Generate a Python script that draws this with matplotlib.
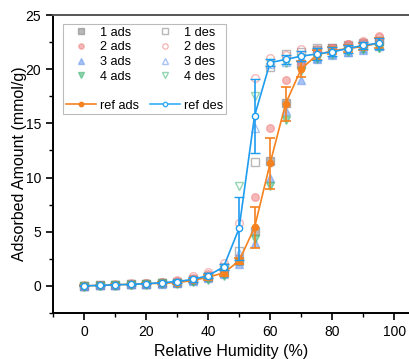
import numpy as np
import matplotlib
matplotlib.use("Agg")
import matplotlib.pyplot as plt
from matplotlib.lines import Line2D
from matplotlib.ticker import MultipleLocator

plt.rcParams['font.family'] = ['Liberation Sans', 'DejaVu Sans']

rh = [0, 5, 10, 15, 20, 25, 30, 35, 40, 45, 50, 55, 60, 65, 70, 75, 80, 85, 90, 95]

ads1 = [0, 0.05, 0.1, 0.15, 0.2, 0.25, 0.3, 0.5, 0.8, 1.2, 2.3, 5.1, 11.5, 16.9, 20.5, 21.8, 22.0, 22.1, 22.3, 22.6]
ads2 = [0.02, 0.08, 0.12, 0.2, 0.25, 0.35, 0.45, 0.75, 1.1, 1.5, 2.6, 8.2, 14.6, 19.0, 20.6, 21.5, 22.0, 22.3, 22.5, 23.0]
ads3 = [0, 0.05, 0.1, 0.15, 0.2, 0.22, 0.28, 0.45, 0.7, 1.1, 2.0, 4.0, 10.0, 16.1, 19.0, 20.9, 21.4, 21.6, 21.8, 22.1]
ads4 = [-0.1, -0.05, 0, 0.05, 0.1, 0.15, 0.2, 0.35, 0.5, 0.9, 2.3, 4.3, 9.2, 15.3, 19.8, 21.0, 21.5, 21.7, 21.9, 22.0]

des1 = [0, 0.05, 0.1, 0.15, 0.2, 0.3, 0.4, 0.6, 0.9, 1.7, 3.2, 11.4, 20.2, 21.4, 21.6, 22.0, 22.0, 22.2, 22.4, 22.6]
des2 = [0.05, 0.1, 0.15, 0.25, 0.3, 0.4, 0.55, 0.9, 1.3, 2.1, 5.8, 19.2, 21.0, 21.3, 21.9, 21.9, 22.0, 22.3, 22.6, 23.1]
des3 = [0, 0.05, 0.1, 0.15, 0.2, 0.3, 0.35, 0.55, 0.85, 1.6, 3.0, 14.6, 20.5, 20.7, 21.0, 21.0, 21.3, 21.6, 22.0, 22.1]
des4 = [-0.05, 0, 0.05, 0.1, 0.15, 0.25, 0.3, 0.45, 0.8, 1.5, 9.2, 17.5, 20.6, 20.6, 21.0, 20.9, 21.3, 21.6, 21.9, 22.0]

ref_ads = [0, 0.05, 0.1, 0.15, 0.2, 0.25, 0.3, 0.5, 0.8, 1.2, 2.3, 5.4, 11.3, 16.8, 20.0, 21.3, 21.7, 21.9, 22.1, 22.4]
ref_des = [0, 0.05, 0.1, 0.15, 0.2, 0.3, 0.4, 0.6, 0.95, 1.75, 5.3, 15.7, 20.6, 20.9, 21.2, 21.4, 21.6, 21.9, 22.2, 22.4]

run_labels = ['1', '2', '3', '4']
run_colors = ['#7f7f7f', '#f08080', '#6495ed', '#3cb371']
run_markers = ['s', 'o', '^', 'v']
ads_runs = [ads1, ads2, ads3, ads4]
des_runs = [des1, des2, des3, des4]

c_ads = '#f5821f'
c_des = '#1e9cf0'

fig = plt.figure(figsize=(4.09, 3.59), dpi=100)
ax = fig.add_axes([53/409, 1 - 313/359, 1 - 53/409, (313 - 15)/359])

ads_handles, des_handles = [], []
for lab, col, mk, a, d in zip(run_labels, run_colors, run_markers, ads_runs, des_runs):
    h1, = ax.plot(rh, a, linestyle='none', marker=mk, ms=5.5, mfc=col, mec=col,
                  alpha=0.55, mew=1.0, zorder=2, label=f'{lab} ads')
    h2, = ax.plot(rh, d, linestyle='none', marker=mk, ms=5.5, mfc='none', mec=col,
                  alpha=0.55, mew=1.0, zorder=2, label=f'{lab} des')
    ads_handles.append(h1)
    des_handles.append(h2)

err_ads = np.std(np.array(ads_runs), axis=0, ddof=1)
err_des = np.std(np.array(des_runs), axis=0, ddof=1)

ax.errorbar(rh, ref_ads, yerr=err_ads, color=c_ads, marker='o', ms=4.5,
            mfc=c_ads, mec=c_ads, lw=1.2, capsize=3.5, capthick=1.2,
            elinewidth=1.2, zorder=4, label='ref ads')
ax.errorbar(rh, ref_des, yerr=err_des, color=c_des, marker='o', ms=4.5,
            mfc='white', mec=c_des, mew=1.0, lw=1.2, capsize=3.5, capthick=1.2,
            elinewidth=1.2, zorder=5, label='ref des')

ax.set_xlim(-10, 104.8)
ax.set_ylim(-2.5, 25)
ax.xaxis.set_major_locator(MultipleLocator(20))
ax.xaxis.set_minor_locator(MultipleLocator(10))
ax.yaxis.set_major_locator(MultipleLocator(5))
ax.yaxis.set_minor_locator(MultipleLocator(2.5))
ax.tick_params(which='major', direction='out', length=5, width=1.2, labelsize=10)
ax.tick_params(which='minor', direction='out', length=3, width=1.0)
ax.tick_params(top=False, right=False)
ax.spines['right'].set_visible(False)
for s in ['left', 'bottom', 'top']:
    ax.spines[s].set_linewidth(1.4)
ax.spines['top'].set_color('#555555')

ax.set_xlabel('Relative Humidity (%)', fontsize=11.5)
ax.set_ylabel('Adsorbed Amount (mmol/g)', fontsize=11.5, labelpad=-1)

blank = Line2D([], [], linestyle='none', marker='none', label=' ')
ref_a = Line2D([], [], color=c_ads, marker='o', ms=4.5, mfc=c_ads, lw=1.2)
ref_d = Line2D([], [], color='#35aef5', marker='o', ms=4.5, mfc='white', lw=1.2)
handles = ads_handles + [blank, ref_a] + des_handles + [blank, ref_d]
labels = [h.get_label() for h in ads_handles] + [' ', 'ref ads'] + \
         [h.get_label() for h in des_handles] + [' ', 'ref des']
leg = ax.legend(handles, labels, ncol=2, loc='upper left',
                bbox_to_anchor=(0.01, 0.99), fontsize=9.2, frameon=True,
                fancybox=False, edgecolor='#aaaaaa', handlelength=2.35,
                columnspacing=0.8, labelspacing=0.2, handletextpad=0.38,
                borderpad=0.2, markerscale=0.7)
leg.get_frame().set_linewidth(0.8)

fig.savefig('out.png', dpi=100)
